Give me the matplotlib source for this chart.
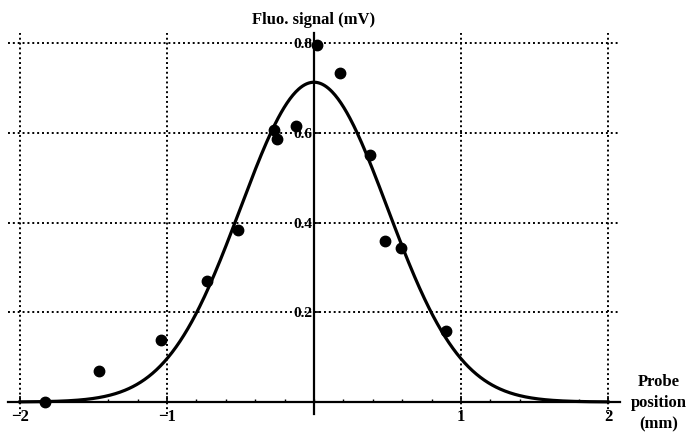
import numpy as np
import matplotlib
matplotlib.use("Agg")
import matplotlib.pyplot as plt
from matplotlib.ticker import MultipleLocator, FixedLocator, FuncFormatter

# Measured data points
pos_mm = [-1.83, -1.46, -1.04, -0.73, -0.52, -0.27, -0.25, -0.12, 0.02, 0.18, 0.38, 0.48, 0.59, 0.90]
signal_mV = [0.0, 0.068, 0.139, 0.269, 0.384, 0.606, 0.587, 0.615, 0.796, 0.734, 0.550, 0.360, 0.343, 0.159]

# Gaussian fit parameters
fit_amplitude = 0.713
fit_center = 0.0
fit_sigma = 0.5
fit_range = (-2.0, 2.0)

x_ticks = [-2, -1, 1, 2]
y_ticks = [0.2, 0.4, 0.6, 0.8]

plt.rcParams['font.family'] = ['Liberation Serif', 'DejaVu Serif']
plt.rcParams['font.weight'] = 'bold'

fig = plt.figure(figsize=(6.86, 4.38), dpi=100)
ax = fig.add_axes([0.01195, 0.0546, 0.8915, 0.8703])
ax.set_xlim(-2.08, 2.08)
ax.set_ylim(-0.027, 0.823)

for s in ['top', 'right']:
    ax.spines[s].set_visible(False)
ax.spines['left'].set_position(('data', 0))
ax.spines['bottom'].set_position(('data', 0))
ax.spines['left'].set_linewidth(1.6)
ax.spines['bottom'].set_linewidth(1.6)

# grid lines
for xv in x_ticks:
    ax.axvline(xv, color='black', linestyle=(0, (1, 1.5)), linewidth=1.4, zorder=1)
for yv in y_ticks:
    ax.axhline(yv, color='black', linestyle=(0, (1, 1.5)), linewidth=1.4, zorder=1)

ax.xaxis.set_major_locator(FixedLocator(x_ticks))
ax.xaxis.set_minor_locator(MultipleLocator(0.2))
ax.yaxis.set_major_locator(FixedLocator(y_ticks))

def xfmt(v, p):
    return ('\u2212%d' % abs(round(v))) if v < 0 else '%d' % round(v)
ax.xaxis.set_major_formatter(FuncFormatter(xfmt))
ax.yaxis.set_major_formatter(FuncFormatter(lambda v, p: '%.1f' % v))

ax.tick_params(axis='x', which='major', direction='in', length=4, width=1.2, labelsize=12, pad=5)
ax.tick_params(axis='x', which='minor', direction='in', length=2.5, width=1.0)
ax.tick_params(axis='y', which='major', direction='in', length=4, width=1.2, labelsize=11, pad=1)
for lab in ax.get_xticklabels() + ax.get_yticklabels():
    lab.set_fontweight('bold')

xf = np.linspace(fit_range[0], fit_range[1], 600)
yf = fit_amplitude * np.exp(-(xf - fit_center) ** 2 / (2 * fit_sigma ** 2))
ax.plot(xf, yf, color='black', linewidth=2.3, zorder=3, clip_on=False)
ax.plot(pos_mm, signal_mV, 'o', color='black', markersize=7.5, zorder=4, clip_on=False)

fig.text(314 / 686, 1 - 20 / 438, 'Fluo. signal (mV)', ha='center', va='center',
         fontsize=12, fontweight='bold')
fig.text(659 / 686, 1 - 403 / 438, 'Probe\nposition\n(mm)', ha='center', va='center',
         fontsize=12, fontweight='bold', linespacing=1.45)

fig.savefig('out.png', dpi=100)
